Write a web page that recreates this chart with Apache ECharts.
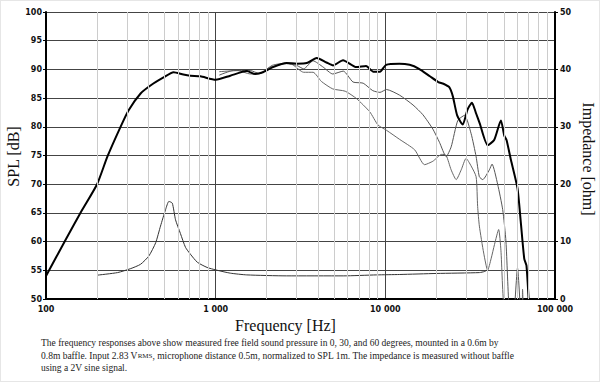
<!DOCTYPE html>
<html><head><meta charset="utf-8">
<script src="https://cdn.jsdelivr.net/npm/echarts@6/dist/echarts.min.js"></script>
<style>html,body{margin:0;padding:0;background:#fff}#c{width:600px;height:382px;box-sizing:border-box;border:1px solid #e6e6e6}</style>
</head><body><div id="c"></div>
<script>
// ---- data ----
const minorFreqs = [200,300,400,500,600,700,800,900,2000,3000,4000,5000,6000,7000,8000,9000,20000,30000,40000,50000,60000,70000,80000,90000];

const spl0 = [[100,54.0],[131,60.4],[161,65.2],[200,70.0],[230,74.8],[275,80.0],[307,82.9],[361,85.8],[413,87.2],[493,88.6],[565,89.5],[645,89.1],[710,88.9],[813,88.8],[1000,88.2],[1220,88.9],[1525,89.7],[1710,89.2],[1900,89.5],[2180,90.4],[2620,91.1],[3000,91.0],[3440,91.1],[3940,92.0],[4500,91.2],[4930,90.7],[5630,91.6],[6740,90.4],[7700,90.6],[8500,89.6],[9300,89.6],[10100,90.8],[12100,91.0],[13900,90.8],[15800,90.1],[18300,88.8],[20500,87.8],[22000,87.5],[23800,86.9],[25000,85.3],[26500,82.0],[28600,80.4],[30500,83.0],[32400,84.2],[34200,82.4],[36000,80.6],[40100,76.8],[43800,77.7],[48000,81.1],[50200,78.5],[51800,77.7],[55000,74.2],[60100,69.3],[62900,63.3],[65900,57.0],[67900,55.8],[70500,48.0]];

const spl30 = [[1050,89.0],[1270,89.8],[1600,89.8],[1800,89.3],[2100,90.4],[2620,91.0],[3000,90.7],[3300,90.1],[3750,91.5],[4300,90.4],[4900,89.2],[5650,89.7],[6450,87.8],[7400,87.6],[8430,86.3],[9300,86.0],[10150,86.5],[12150,85.5],[14560,83.8],[16650,82.1],[19060,79.6],[20850,77.3],[22840,74.8],[24430,76.5],[26740,81.1],[29300,82.0],[32040,78.8],[34280,74.8],[35830,71.3],[37490,70.8],[41030,72.5],[42550,73.5],[45900,70.0],[49150,65.6],[51400,60.0],[53750,48.0],[56500,46.0],[60120,55.4],[63000,46.0]];

const spl60 = [[1050,89.6],[1350,89.8],[1600,89.2],[1850,89.3],[2150,90.7],[2620,91.1],[2850,90.8],[3300,89.5],[3750,89.5],[4200,87.9],[4900,86.6],[5800,86.2],[6770,84.9],[8100,82.6],[9060,80.3],[10150,79.4],[12150,77.8],[14880,76.0],[17030,73.4],[19060,74.0],[21500,75.2],[22840,75.0],[24430,72.5],[26160,70.8],[28000,72.5],[29930,74.5],[32000,73.2],[34280,71.3],[35000,66.1],[35830,62.7],[38000,58.0],[40110,55.0],[42000,57.0],[44000,59.5],[46540,62.1],[48000,58.5],[50230,48.0],[55000,46.0],[63500,46.0],[64370,51.7],[65300,46.0]];

const impedance = [[200,4.15],[264,4.6],[316,5.3],[361,6.05],[404,7.5],[443,9.8],[473,12.7],[507,15.6],[530,17.0],[555,16.7],[580,13.8],[620,11.4],[664,9.0],[710,7.8],[780,6.4],[890,5.5],[1000,5.07],[1220,4.5],[1525,4.2],[2620,4.03],[5650,4.03],[8870,4.2],[12150,4.27],[20000,4.45],[35830,4.6],[38500,4.8],[40110,5.1]];

const leftTitle = 'SPL [dB]';
const rightTitle = 'Impedance [ohm]';
const captionLines = [
  'The frequency responses above show measured free field sound pressure in 0, 30, and 60 degrees, mounted in a 0.6m by',
  ['0.8m baffle. Input 2.83 V', 'RMS', ', microphone distance 0.5m, normalized to SPL 1m. The impedance is measured without baffle'],
  'using a 2V sine signal.'
];

// ---- chart ----
const serif = '"Liberation Serif", "DejaVu Serif", serif';
const lab = {fontFamily:'"DejaVu Sans", sans-serif', fontWeight:'bold', fontSize:8, color:'#111'};
const fmt = v => String(v).replace(/\B(?=(\d{3})+(?!\d))/g, ' ');

const chart = echarts.init(document.getElementById('c'), null, {renderer:'svg'});

const capGraphics = captionLines.map((ln, i) => {
  const y = 343 + i * 12.5;
  if (Array.isArray(ln)) {
    return {type:'text', left:40, top:y-6, style:{
      text: '{a|' + ln[0] + '}{b|' + ln[1] + '}{a|' + ln[2] + '}',
      rich:{a:{fontFamily:serif, fontSize:9.5, fill:'#222'}, b:{fontFamily:serif, fontSize:7, fill:'#222'}}
    }};
  }
  return {type:'text', left:40, top:y-6, style:{text:ln, fontFamily:serif, fontSize:9.5, fill:'#222'}};
});
capGraphics.push(
  {type:'text', x:12.5, y:155.5, rotation:Math.PI/2, style:{text:leftTitle, fontFamily:serif, fontSize:16, fill:'#111', align:'center', verticalAlign:'middle'}},
  {type:'text', x:587, y:158, rotation:-Math.PI/2, style:{text:rightTitle, fontFamily:serif, fontSize:16, fill:'#111', align:'center', verticalAlign:'middle'}}
);

const lineCommon = {showSymbol:false, smooth:0.2};

chart.setOption({
  animation:false,
  backgroundColor:'#fff',
  grid:{left:45, right:44, top:11, bottom:82, containLabel:false, outerBoundsMode:'none'},
  xAxis:{
    type:'log', logBase:10, min:100, max:100000,
    name:'Frequency [Hz]', nameLocation:'middle', nameGap:17,
    nameTextStyle:{fontFamily:serif, fontSize:16, color:'#111', padding:[0,30,0,0]},
    axisLine:{show:true, lineStyle:{color:'#000', width:2}},
    axisTick:{show:false},
    axisLabel:Object.assign({margin:6, formatter:fmt}, lab),
    splitLine:{show:true, lineStyle:{color:'#444', width:1}},
    minorTick:{show:false}, minorSplitLine:{show:false}
  },
  yAxis:[{
    type:'value', min:50, max:100, interval:5, position:'left',
    axisLine:{show:true, lineStyle:{color:'#000', width:2}},
    axisTick:{show:true, length:3, lineStyle:{color:'#000'}},
    axisLabel:Object.assign({margin:4}, lab),
    splitLine:{show:true, lineStyle:{color:'#444', width:1}}
  },{
    type:'value', min:0, max:50, interval:10, position:'right',
    axisLine:{show:true, lineStyle:{color:'#000', width:2}},
    axisTick:{show:true, length:3, lineStyle:{color:'#000'}},
    axisLabel:Object.assign({margin:5}, lab),
    splitLine:{show:false}
  }],
  series:[
    {type:'line', data:[], silent:true, z:1,
     markLine:{silent:true, symbol:'none', label:{show:false}, animation:false,
       lineStyle:{color:'#cccccc', width:1, type:'solid'},
       emphasis:{disabled:true},
       data:minorFreqs.map(f => ({xAxis:f}))}},
    Object.assign({name:'impedance', type:'line', yAxisIndex:1, data:impedance, lineStyle:{color:'#333', width:1}, z:3}, lineCommon),
    Object.assign({name:'60', type:'line', data:spl60, lineStyle:{color:'#666', width:1}, z:3}, lineCommon),
    Object.assign({name:'30', type:'line', data:spl30, lineStyle:{color:'#555', width:1}, z:3}, lineCommon),
    Object.assign({name:'0', type:'line', data:spl0, lineStyle:{color:'#000', width:2}, z:4}, lineCommon)
  ],
  graphic: capGraphics
});
</script></body></html>
